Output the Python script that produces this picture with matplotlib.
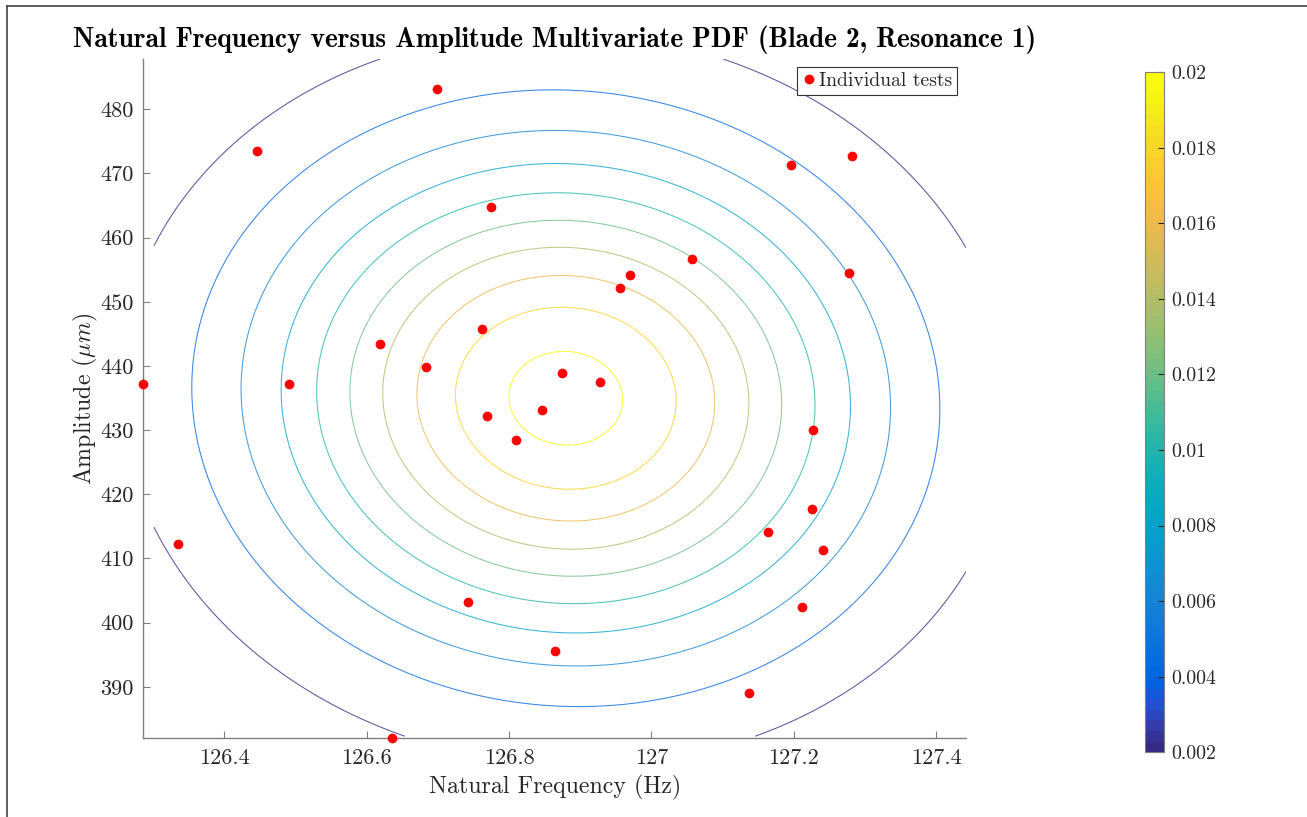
import numpy as np
import matplotlib
matplotlib.use("Agg")
import matplotlib.pyplot as plt
from matplotlib.colors import LinearSegmentedColormap, Normalize
from matplotlib.lines import Line2D
import matplotlib.cm as cm

# ---------------- data ----------------
freq_hz = [126.286, 126.335, 126.446, 126.491, 126.619, 126.635, 126.683, 126.698,
           126.742, 126.762, 126.769, 126.775, 126.810, 126.846, 126.865, 126.875,
           126.928, 126.956, 126.970, 127.057, 127.137, 127.164, 127.196, 127.212,
           127.227, 127.226, 127.241, 127.278, 127.282]
amp_um = [437.19, 412.25, 473.50, 437.19, 443.42, 381.97, 439.83, 483.16,
          403.21, 445.76, 432.20, 464.77, 428.46, 433.13, 395.57, 438.90,
          437.50, 452.15, 454.17, 456.67, 389.02, 414.12, 471.32, 402.43,
          430.02, 417.70, 411.31, 454.49, 472.72]
contour_levels = [0.002, 0.004, 0.006, 0.008, 0.010, 0.012, 0.014, 0.016, 0.018, 0.020]
cbar_ticks = [0.002, 0.004, 0.006, 0.008, 0.010, 0.012, 0.014, 0.016, 0.018, 0.020]
x_ticks = [126.4, 126.6, 126.8, 127.0, 127.2, 127.4]
y_ticks = [390, 400, 410, 420, 430, 440, 450, 460, 470, 480]
x_limits = [126.286, 127.442]
y_limits = [381.97, 487.84]
grid_x_range = [126.301, 127.442]
grid_y_range = [382.3, 487.84]

title_text = "Natural Frequency versus Amplitude Multivariate PDF (Blade 2, Resonance 1)"
xlabel_text = "Natural Frequency (Hz)"
ylabel_text = "Amplitude ($\\mu m$)"
legend_text = "Individual tests"

# ---------------- parula colormap ----------------
parula_anchor = [
    [0.2081, 0.1663, 0.5292], [0.2081, 0.2386, 0.6771], [0.1253, 0.3242, 0.8303],
    [0.0117, 0.3875, 0.8820], [0.0165, 0.4266, 0.8786], [0.0498, 0.4586, 0.8641],
    [0.0723, 0.4887, 0.8467], [0.0793, 0.5200, 0.8312], [0.0641, 0.5570, 0.8240],
    [0.0343, 0.5966, 0.8199], [0.0239, 0.6287, 0.8038], [0.0228, 0.6535, 0.7768],
    [0.0384, 0.6743, 0.7436], [0.0843, 0.6928, 0.7062], [0.1453, 0.7098, 0.6646],
    [0.2178, 0.7250, 0.6193], [0.3022, 0.7376, 0.5712], [0.3953, 0.7459, 0.5244],
    [0.4871, 0.7491, 0.4840], [0.5709, 0.7485, 0.4494], [0.6473, 0.7456, 0.4188],
    [0.7184, 0.7411, 0.3905], [0.7858, 0.7356, 0.3633], [0.8507, 0.7299, 0.3360],
    [0.9139, 0.7258, 0.3063], [0.9739, 0.7314, 0.2666], [0.9990, 0.7653, 0.2164],
    [0.9880, 0.8066, 0.1794], [0.9697, 0.8481, 0.1475], [0.9589, 0.8949, 0.1132],
    [0.9661, 0.9514, 0.0755], [0.9763, 0.9831, 0.0538]]
parula = LinearSegmentedColormap.from_list("parula", parula_anchor, N=64)

# ---------------- fonts ----------------
plt.rcParams["font.family"] = "cmr10"
plt.rcParams["mathtext.fontset"] = "cm"
plt.rcParams["axes.unicode_minus"] = False
plt.rcParams["axes.formatter.use_mathtext"] = True

W, H = 1307, 817
fig = plt.figure(figsize=(W / 100, H / 100), dpi=100)
fig.patch.set_facecolor("white")

ax = fig.add_axes([143.3 / W, 1 - 738.3 / H, (966 - 143.3) / W, (738.3 - 59) / H])

# PDF from sample mean / covariance of the tests
pts = np.vstack([freq_hz, amp_um])
mu = pts.mean(axis=1)
cov = np.cov(pts)
gx = np.linspace(grid_x_range[0], grid_x_range[1], 400)
gy = np.linspace(grid_y_range[0], grid_y_range[1], 400)
GX, GY = np.meshgrid(gx, gy)
D = np.stack([GX - mu[0], GY - mu[1]], axis=-1)
inv = np.linalg.inv(cov)
q = np.einsum("...i,ij,...j->...", D, inv, D)
Z = np.exp(-0.5 * q) / (2 * np.pi * np.sqrt(np.linalg.det(cov)))

ax.contour(GX, GY, Z, levels=contour_levels, cmap=parula, vmin=0.002, vmax=0.02,
           linewidths=0.75, alpha=0.8)
ax.plot(freq_hz, amp_um, "o", color="red", markersize=7, markeredgewidth=0,
        label=legend_text, clip_on=False, zorder=5)

ax.set_xlim(x_limits)
ax.set_ylim(y_limits)
ax.set_xticks(x_ticks)
ax.set_xticklabels(["%g" % v for v in x_ticks])
ax.set_yticks(y_ticks)
ax.set_yticklabels(["%g" % v for v in y_ticks])

spine_c = "#7f7f7f"
for s in ["top", "right"]:
    ax.spines[s].set_visible(False)
for s in ["left", "bottom"]:
    ax.spines[s].set_color(spine_c)
    ax.spines[s].set_linewidth(1.0)
ax.tick_params(direction="in", length=5, width=0.8, color=spine_c,
               labelsize=16, labelcolor="#262626", pad=7)

ax.set_xlabel(xlabel_text, fontsize=17.2, color="#262626", labelpad=5)
ax.set_ylabel(ylabel_text, fontsize=17.2, color="#262626", labelpad=0)
ax.set_title(title_text, fontsize=19.7, fontfamily="cmb10", color="black", pad=9)

leg = ax.legend(loc="upper right", bbox_to_anchor=(0.989, 0.988), fontsize=14.2,
                frameon=True, fancybox=False, framealpha=1, edgecolor="#333333",
                borderpad=0.25, handletextpad=0.15, handlelength=0.7,
                borderaxespad=0.0, markerscale=1.0)
leg.get_frame().set_linewidth(0.8)
for t in leg.get_texts():
    t.set_color("#262626")

# colorbar
cax = fig.add_axes([1145 / W, 1 - 752.3 / H, 19 / W, (752.3 - 72) / H])
sm = cm.ScalarMappable(norm=Normalize(vmin=0.002, vmax=0.02), cmap=parula)
cb = fig.colorbar(sm, cax=cax, ticks=cbar_ticks)
cb.ax.set_yticklabels(["%g" % v for v in cbar_ticks])
cb.outline.set_edgecolor(spine_c)
cb.outline.set_linewidth(0.8)
cb.ax.tick_params(direction="in", length=4, width=0.8, color="#262626",
                  labelsize=14.3, labelcolor="#262626", pad=5)

# window frame lines (top and left)
fig.add_artist(Line2D([7.3 / W, 7.3 / W], [0, 1 - 5.7 / H], transform=fig.transFigure,
                      color="#444444", linewidth=1.2))
fig.add_artist(Line2D([7.3 / W, 1], [1 - 5.7 / H, 1 - 5.7 / H], transform=fig.transFigure,
                      color="#444444", linewidth=1.2))

fig.savefig("out.png", dpi=100)
